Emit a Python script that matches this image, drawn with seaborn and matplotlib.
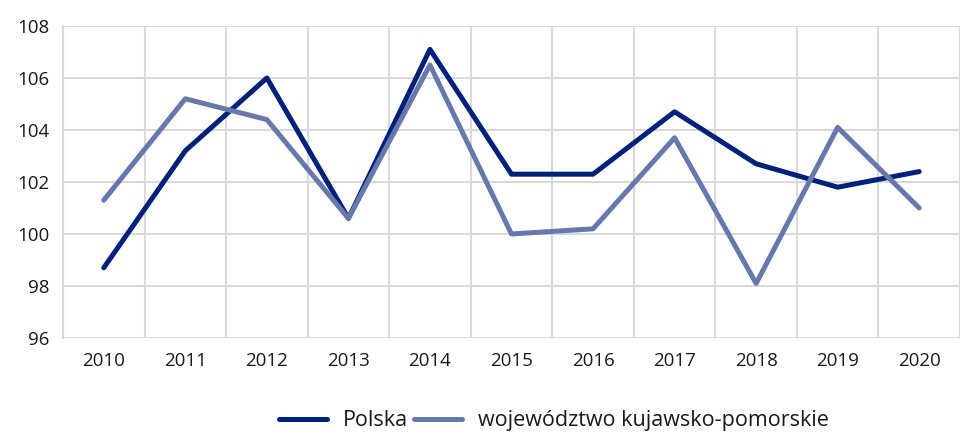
import pandas as pd
import matplotlib.pyplot as plt
import seaborn as sns
from matplotlib.ticker import MultipleLocator

years = [2010, 2011, 2012, 2013, 2014, 2015, 2016, 2017, 2018, 2019, 2020]
polska = [98.7, 103.2, 106.0, 100.6, 107.1, 102.3, 102.3, 104.7, 102.7, 101.8, 102.4]
kujawsko = [101.3, 105.2, 104.4, 100.6, 106.5, 100.0, 100.2, 103.7, 98.1, 104.1, 101.0]
series_names = ["Polska", "województwo kujawsko-pomorskie"]
colors = ["#00207A", "#6878AD"]

df = pd.DataFrame({
    "rok": years * 2,
    "wartosc": polska + kujawsko,
    "seria": [series_names[0]] * len(years) + [series_names[1]] * len(years),
})

sns.set_style("white")
plt.rcParams['font.family'] = ['Open Sans', 'DejaVu Sans']
fs = 13.5

fig = plt.figure(figsize=(9.6, 4.33), dpi=100)
ax = fig.add_axes([0.0656, 0.2194, 0.9344, 0.7206])

sns.lineplot(data=df, x="rok", y="wartosc", hue="seria", palette=colors,
             linewidth=3.6, solid_capstyle='round', ax=ax, legend=True)

ax.set_xlim(2009.5, 2020.5)
ax.set_ylim(96, 108)
ax.set_xticks(years)
ax.set_xticks([y + 0.5 for y in [2009] + years], minor=True)
ax.yaxis.set_major_locator(MultipleLocator(2))
ax.grid(False)
ax.grid(True, axis='y', which='major', color='#D9D9D9', linewidth=1.5)
ax.grid(True, axis='x', which='minor', color='#D9D9D9', linewidth=1.5)
ax.set_axisbelow(True)
ax.tick_params(axis='x', which='major', length=0, labelsize=fs, pad=10,
               labelcolor='#1a1a1a')
ax.tick_params(axis='x', which='minor', length=6, width=1.5, color='#D9D9D9')
ax.tick_params(axis='y', length=0, labelsize=fs, pad=10, labelcolor='#1a1a1a')
for s in ['top', 'right', 'bottom']:
    ax.spines[s].set_visible(False)
ax.spines['left'].set_color('#D9D9D9')
ax.spines['left'].set_linewidth(1.5)
ax.set_xlabel('')
ax.set_ylabel('')

handles, labels = ax.get_legend_handles_labels()
ax.get_legend().remove()
leg = fig.legend(handles, labels, loc='center', bbox_to_anchor=(0.577, 0.028), ncol=2,
                 frameon=False, fontsize=15.5, handlelength=2.2, columnspacing=0.3,
                 handletextpad=0.75)
for t in leg.get_texts():
    t.set_color('#1a1a1a')

plt.savefig('out.png', dpi=100)
